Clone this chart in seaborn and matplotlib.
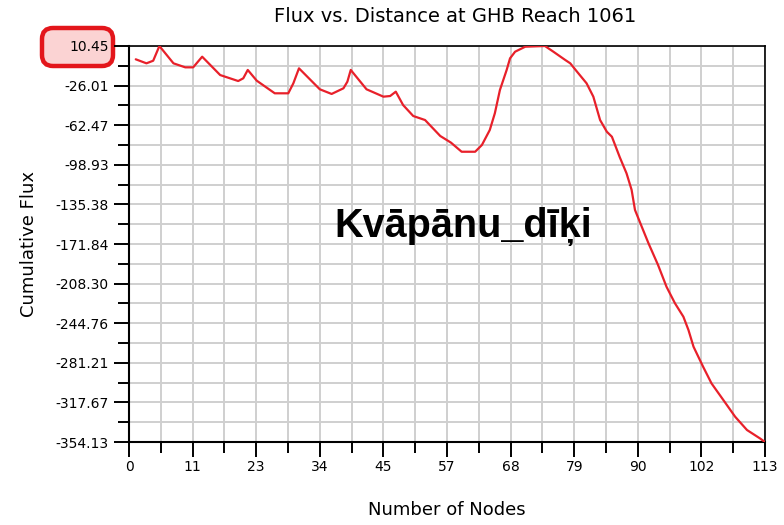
import numpy as np
import pandas as pd
import matplotlib
matplotlib.use("Agg")
import matplotlib.pyplot as plt
from matplotlib.patches import FancyBboxPatch
from matplotlib.transforms import IdentityTransform
from matplotlib.ticker import FixedLocator
import seaborn as sns

# Cumulative flux along the reach, sampled by node position
nodes = [1.2, 3.1, 4.3, 5.4, 7.9, 10.0, 11.4, 13.0, 16.2, 19.4, 20.3, 21.1, 22.7,
         25.9, 28.3, 29.2, 30.2, 33.9, 36.0, 38.1, 38.8, 39.4, 42.2, 45.2, 46.4,
         47.4, 48.7, 50.5, 52.6, 55.3, 57.2, 59.1, 61.5, 62.7, 64.1, 65.0, 65.9,
         67.1, 67.7, 68.6, 70.4, 73.9, 75.4, 77.5, 78.4, 79.6, 81.3, 82.5, 83.7,
         84.9, 85.8, 87.2, 88.4, 89.3, 89.9, 91.1, 92.3, 94.0, 95.5, 97.0, 98.5,
         99.4, 100.3, 102.0, 103.5, 105.6, 107.7, 109.8, 112.1, 113.0]
flux = [-1.8, -5.5, -3.1, 10.45, -5.5, -9.2, -9.2, 0.6, -16.3, -21.8, -19.3, -11.6, -21.5,
        -33.1, -33.1, -23.9, -10.1, -29.4, -33.7, -28.5, -22.4, -11.6, -29.4, -36.2, -35.6,
        -31.6, -43.9, -54.0, -57.7, -72.4, -78.5, -86.9, -86.9, -80.7, -66.9, -51.5, -30.1,
        -11.6, -0.9, 5.2, 9.8, 10.45, 5.2, -2.4, -5.5, -13.2, -23.9, -36.2, -57.7,
        -68.5, -73.1, -92.0, -106.8, -122.0, -140.5, -155.9, -171.2, -191.2, -211.2, -226.4, -238.8,
        -251.0, -266.4, -284.8, -300.2, -315.5, -330.9, -343.1, -350.8, -354.13]

x_ticks = [0, 11.3, 22.6, 33.9, 45.2, 56.5, 67.8, 79.1, 90.4, 101.7, 113]
x_tick_labels = ["0", "11", "23", "34", "45", "57", "68", "79", "90", "102", "113"]
y_ticks = [10.45, -26.01, -62.47, -98.93, -135.38, -171.84, -208.30, -244.76,
           -281.21, -317.67, -354.13]
y_tick_labels = ["10.45", "-26.01", "-62.47", "-98.93", "-135.38", "-171.84",
                 "-208.30", "-244.76", "-281.21", "-317.67", "-354.13"]

title = "Flux vs. Distance at GHB Reach 1061"
x_label = "Number of Nodes"
y_label = "Cumulative Flux"
overlay_text = "Kvāpānu_dīķi"

sns.set_style("white")
plt.rcParams["font.family"] = ["DejaVu Sans"]
plt.rcParams["text.color"] = "black"
plt.rcParams["axes.labelcolor"] = "black"

df = pd.DataFrame({"node": nodes, "flux": flux})

fig = plt.figure(figsize=(7.84, 5.25), dpi=100)
ax = fig.add_axes([129 / 784, 1 - 442 / 525, 636 / 784, 396 / 525])

sns.lineplot(data=df, x="node", y="flux", ax=ax, color="#e8202a",
             linewidth=1.6, zorder=3)

ax.set_xlim(x_ticks[0], x_ticks[-1])
ax.set_ylim(y_ticks[-1], y_ticks[0])

ax.set_xticks(x_ticks)
ax.set_xticklabels(x_tick_labels, fontsize=10)
ax.set_yticks(y_ticks)
ax.set_yticklabels(y_tick_labels, fontsize=10)

x_minor = [(a + b) / 2 for a, b in zip(x_ticks[:-1], x_ticks[1:])]
y_minor = [(a + b) / 2 for a, b in zip(y_ticks[:-1], y_ticks[1:])]
ax.xaxis.set_minor_locator(FixedLocator(x_minor))
ax.yaxis.set_minor_locator(FixedLocator(y_minor))

ax.grid(True, which="both", color="#cfcfcf", linewidth=1.4, zorder=0)
ax.set_axisbelow(True)

ax.tick_params(which="both", bottom=True, left=True, top=False, right=False,
               direction="out", width=1.4, color="black", labelcolor="black")
ax.tick_params(which="major", length=11)
ax.tick_params(which="minor", length=8)
ax.tick_params(axis="y", which="major", pad=3.5)
ax.tick_params(axis="x", which="major", pad=2)

for side, spine in ax.spines.items():
    spine.set_visible(True)
    spine.set_color("black")
    spine.set_linewidth(1.5 if side in ("left", "bottom") else 1.2)

ax.set_xlabel(x_label, fontsize=13)
ax.set_ylabel(y_label, fontsize=13)
ax.xaxis.set_label_coords(0.5, -(510 - 442) / 396)
ax.yaxis.set_label_coords((29 - 129) / 636, 0.5)
ax.xaxis.label.set_va("center")
ax.yaxis.label.set_va("center")

fig.text(455 / 784, 1 - 17 / 525, title, ha="center", va="center", fontsize=14)

ax.text((463 - 129) / 636, 1 - (226 - 46) / 396, overlay_text,
        transform=ax.transAxes, ha="center", va="center",
        fontsize=28.5, fontweight="bold",
        family=["Liberation Sans", "DejaVu Sans"], color="black", zorder=5)

# highlight box around the top y tick label
box = FancyBboxPatch((42, 525 - 66), 71, 38,
                     boxstyle="round,pad=0,rounding_size=11",
                     transform=IdentityTransform(),
                     facecolor="#fbd3d3", edgecolor="#e3161b", linewidth=3.2,
                     zorder=-1)
fig.add_artist(box)

fig.savefig("out.png", dpi=100)
